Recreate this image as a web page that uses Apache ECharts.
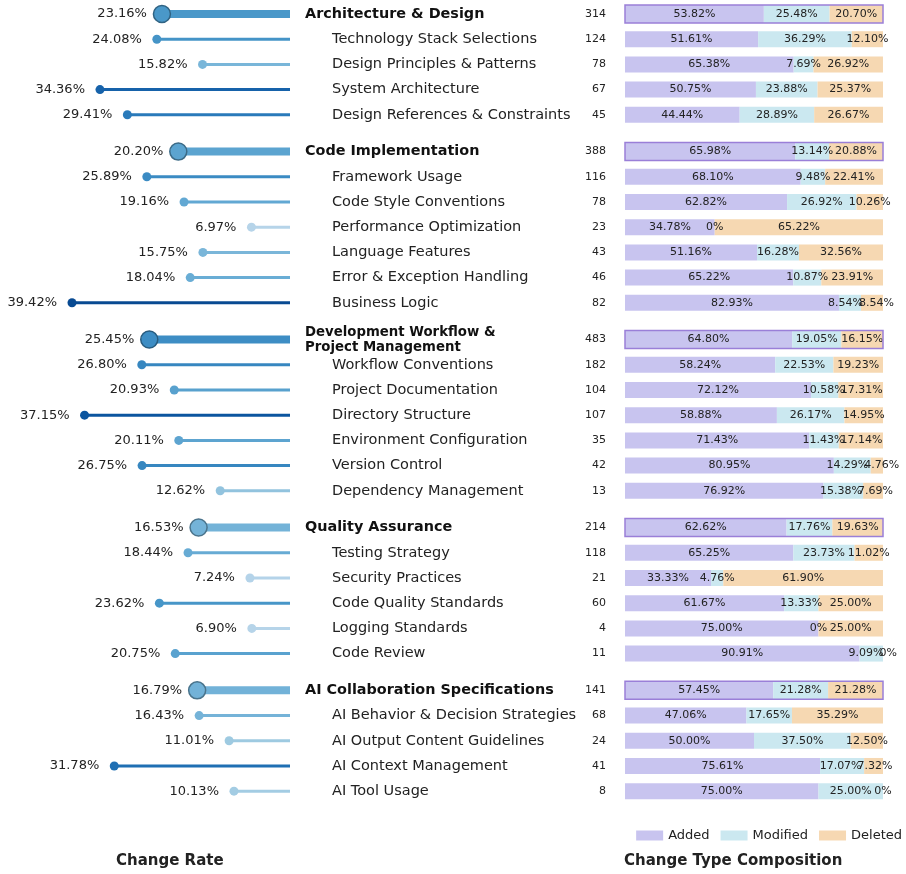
<!DOCTYPE html>
<html>
<head>
<meta charset="utf-8">
<script src="https://cdn.jsdelivr.net/npm/echarts@6/dist/echarts.min.js"></script>
<style>
  html, body { margin: 0; padding: 0; background: #fff; }
  #chart { width: 906px; height: 874px; }
</style>
</head>
<body>
<div id="chart"></div>
<script>
// rows top to bottom; level 0 = group header, 1 = sub item
const labels = [
  'Architecture & Design', 'Technology Stack Selections', 'Design Principles & Patterns', 'System Architecture', 'Design References & Constraints',
  'Code Implementation', 'Framework Usage', 'Code Style Conventions', 'Performance Optimization', 'Language Features', 'Error & Exception Handling', 'Business Logic',
  'Development Workflow &\nProject Management', 'Workflow Conventions', 'Project Documentation', 'Directory Structure', 'Environment Configuration', 'Version Control', 'Dependency Management',
  'Quality Assurance', 'Testing Strategy', 'Security Practices', 'Code Quality Standards', 'Logging Standards', 'Code Review',
  'AI Collaboration Specifications', 'AI Behavior & Decision Strategies', 'AI Output Content Guidelines', 'AI Context Management', 'AI Tool Usage'
]
const levels = [
  0, 1, 1, 1, 1,
  0, 1, 1, 1, 1, 1, 1,
  0, 1, 1, 1, 1, 1, 1,
  0, 1, 1, 1, 1, 1,
  0, 1, 1, 1, 1
]
const changeRate = [
  23.16, 24.08, 15.82, 34.36, 29.41,
  20.20, 25.89, 19.16, 6.97, 15.75, 18.04, 39.42,
  25.45, 26.80, 20.93, 37.15, 20.11, 26.75, 12.62,
  16.53, 18.44, 7.24, 23.62, 6.90, 20.75,
  16.79, 16.43, 11.01, 31.78, 10.13
]
const counts = [
  314, 124, 78, 67, 45,
  388, 116, 78, 23, 43, 46, 82,
  483, 182, 104, 107, 35, 42, 13,
  214, 118, 21, 60, 4, 11,
  141, 68, 24, 41, 8
]
const added = [
  53.82, 51.61, 65.38, 50.75, 44.44,
  65.98, 68.10, 62.82, 34.78, 51.16, 65.22, 82.93,
  64.80, 58.24, 72.12, 58.88, 71.43, 80.95, 76.92,
  62.62, 65.25, 33.33, 61.67, 75.00, 90.91,
  57.45, 47.06, 50.00, 75.61, 75.00
]
const modified = [
  25.48, 36.29, 7.69, 23.88, 28.89,
  13.14, 9.48, 26.92, 0, 16.28, 10.87, 8.54,
  19.05, 22.53, 10.58, 26.17, 11.43, 14.29, 15.38,
  17.76, 23.73, 4.76, 13.33, 0, 9.09,
  21.28, 17.65, 37.50, 17.07, 25.00
]
const deleted = [
  20.70, 12.10, 26.92, 25.37, 26.67,
  20.88, 22.41, 10.26, 65.22, 32.56, 23.91, 8.54,
  16.15, 19.23, 17.31, 14.95, 17.14, 4.76, 7.69,
  19.63, 11.02, 61.90, 25.00, 25.00, 0,
  21.28, 35.29, 12.50, 7.32, 0
]

const GROUP_GAP = 0.46
const TEXT = '#222'
const BAR_FONT = '11px "DejaVu Sans"'
const BAR_PX = 258 // pixel width of the composition grid
const segColors = { Added: '#c8c4ef', Modified: '#cbe8f0', Deleted: '#f6d8b2' }

// y position of each row (group gap added after every header-led block)
const positions = []
let g = -1
levels.forEach((lv, i) => {
  if (lv === 0) g++
  positions.push(i + g * GROUP_GAP)
})

// matplotlib-like Blues colormap
const bluesStops = ['#f7fbff', '#deebf7', '#c6dbef', '#9ecae1', '#6baed6', '#4292c6', '#2171b5', '#08519c', '#08306b']
const hexToRgb = h => [1, 3, 5].map(k => parseInt(h.slice(k, k + 2), 16))
const blues = t => {
  const s = t * (bluesStops.length - 1)
  const i = Math.min(Math.floor(s), bluesStops.length - 2)
  const f = s - i
  const a = hexToRgb(bluesStops[i]), b = hexToRgb(bluesStops[i + 1])
  return a.map((c, k) => Math.round(c + (b[k] - c) * f))
}
const rMin = Math.min(...changeRate), rMax = Math.max(...changeRate)
const rateColor = (v, alpha, dark) => {
  const c = blues(0.3 + (v - rMin) / (rMax - rMin) * 0.6).map(x => Math.round(x * (dark || 1)))
  return `rgba(${c[0]},${c[1]},${c[2]},${alpha})`
}

const pctText = v => (v === 0 ? '0%' : v.toFixed(2) + '%')

// label centres (in % units) for each segment, nudged apart when they collide
const measureCtx = document.createElement('canvas').getContext('2d')
measureCtx.font = BAR_FONT
const labelPos = added.map((a, i) => {
  const vals = [a, modified[i], deleted[i]]
  let s = 0
  const c = vals.map(v => { const m = s + v / 2; s += v; return m })
  const w = vals.map(v => (measureCtx.measureText(pctText(v)).width - 4) / BAR_PX * 100)
  for (let pass = 0; pass < 3; pass++) {
    for (let k = 0; k < 2; k++) {
      const o = (c[k] + w[k] / 2) - (c[k + 1] - w[k + 1] / 2)
      if (o > 0) { c[k] -= o / 2; c[k + 1] += o / 2 }
    }
  }
  return c
})

const Y_MIN = -0.5, Y_MAX = 31.5
const yAxisCommon = { type: 'value', min: Y_MIN, max: Y_MAX, inverse: true, show: false }

const lollipopData = changeRate.map((v, i) => [v, positions[i], levels[i]])
const rowData = positions.map((p, i) => [p, added[i], modified[i], deleted[i], counts[i], levels[i], i])

const segSeries = (name, idx) => ({
  name,
  type: 'custom',
  xAxisIndex: 1,
  yAxisIndex: 1,
  clip: false,
  itemStyle: { color: segColors[name] },
  data: rowData,
  renderItem: (params, api) => {
    const y = api.value(0), row = api.value(6)
    const vals = [api.value(1), api.value(2), api.value(3)]
    let start = 0
    for (let k = 0; k < idx; k++) start += vals[k]
    const end = start + vals[idx]
    const h = api.value(5) === 0 ? 18 : 16
    const p0 = api.coord([start, y]), p1 = api.coord([end, y])
    const pl = api.coord([labelPos[row][idx], y])
    return {
      type: 'group',
      children: [
        {
          type: 'rect',
          shape: { x: p0[0], y: p0[1] - h / 2, width: p1[0] - p0[0], height: h },
          style: { fill: segColors[name] }
        },
        {
          type: 'text',
          z2: 10,
          style: {
            x: pl[0], y: pl[1],
            text: pctText(vals[idx]),
            align: 'center', verticalAlign: 'middle',
            font: BAR_FONT, fill: TEXT
          }
        }
      ]
    }
  }
})

const chart = echarts.init(document.getElementById('chart'))

const option = {
  animation: false,
  textStyle: { fontFamily: '"DejaVu Sans", sans-serif' },
  grid: [
    { left: 13.5, width: 276.5, top: 1.4, height: 806.4 },
    { left: 625, width: BAR_PX, top: 1.4, height: 806.4 }
  ],
  xAxis: [
    { type: 'value', min: 0, max: 50, inverse: true, show: false, gridIndex: 0 },
    { type: 'value', min: 0, max: 100, show: false, gridIndex: 1 }
  ],
  yAxis: [
    Object.assign({ gridIndex: 0 }, yAxisCommon),
    Object.assign({ gridIndex: 1 }, yAxisCommon)
  ],
  legend: {
    data: ['Added', 'Modified', 'Deleted'],
    right: 4,
    top: 829,
    icon: 'rect',
    itemWidth: 27,
    itemHeight: 10,
    itemGap: 11,
    padding: 0,
    textStyle: { fontSize: 13, color: TEXT, fontFamily: 'DejaVu Sans' }
  },
  title: [
    {
      text: 'Change Rate', left: 116, top: 854, padding: 0,
      textStyle: { fontSize: 15, fontWeight: 'bold', color: TEXT, fontFamily: 'DejaVu Sans' }
    },
    {
      text: 'Change Type Composition', left: 624, top: 854, padding: 0,
      textStyle: { fontSize: 15, fontWeight: 'bold', color: TEXT, fontFamily: 'DejaVu Sans' }
    }
  ],
  series: [
    {
      type: 'custom',
      xAxisIndex: 0,
      yAxisIndex: 0,
      clip: false,
      data: lollipopData,
      renderItem: (params, api) => {
        const v = api.value(0), y = api.value(1), head = api.value(2) === 0
        const p0 = api.coord([0, y]), p1 = api.coord([v, y])
        const r = head ? 8.5 : 4.5
        return {
          type: 'group',
          children: [
            {
              type: 'line',
              shape: { x1: p0[0], y1: p0[1], x2: p1[0], y2: p1[1] },
              style: { stroke: rateColor(v, 1), lineWidth: head ? 8 : 3 }
            },
            {
              type: 'circle',
              z2: 5,
              shape: { cx: p1[0], cy: p1[1], r },
              style: head
                ? { fill: rateColor(v, 1), stroke: rateColor(v, 1, 0.65), lineWidth: 1.5 }
                : { fill: rateColor(v, 1) }
            },
            {
              type: 'text',
              style: {
                x: p1[0] - 15, y: p1[1],
                text: v.toFixed(2) + '%',
                align: 'right', verticalAlign: 'middle',
                font: '13px "DejaVu Sans"', fill: TEXT
              }
            }
          ]
        }
      }
    },
    segSeries('Added', 0),
    segSeries('Modified', 1),
    segSeries('Deleted', 2),
    {
      type: 'custom',
      xAxisIndex: 1,
      yAxisIndex: 1,
      clip: false,
      data: rowData,
      z: 3,
      renderItem: (params, api) => {
        const y = api.value(0), head = api.value(5) === 0, i = api.value(6)
        const p0 = api.coord([0, y]), p1 = api.coord([100, y])
        const children = [
          {
            type: 'text',
            style: {
              x: 606, y: p0[1], text: String(api.value(4)),
              align: 'right', verticalAlign: 'middle',
              font: '11px "DejaVu Sans"', fill: TEXT
            }
          },
          {
            type: 'text',
            style: {
              x: head ? 305 : 332, y: p0[1], text: labels[i],
              align: 'left', verticalAlign: 'middle',
              font: head
                ? (labels[i].indexOf('\n') >= 0 ? 'bold 13.3px "DejaVu Sans"' : 'bold 14.4px "DejaVu Sans"')
                : '14.5px "DejaVu Sans"',
              lineHeight: 15,
              fill: head ? '#111' : TEXT
            }
          }
        ]
        if (head) {
          children.push({
            type: 'rect',
            z2: 20,
            shape: { x: p0[0], y: p0[1] - 9, width: p1[0] - p0[0], height: 18 },
            style: { fill: 'none', stroke: '#9a7fd8', lineWidth: 1.5 }
          })
        }
        return { type: 'group', children }
      }
    }
  ]
}

chart.setOption(option)
window.addEventListener('resize', () => chart.resize())
</script>
</body>
</html>
